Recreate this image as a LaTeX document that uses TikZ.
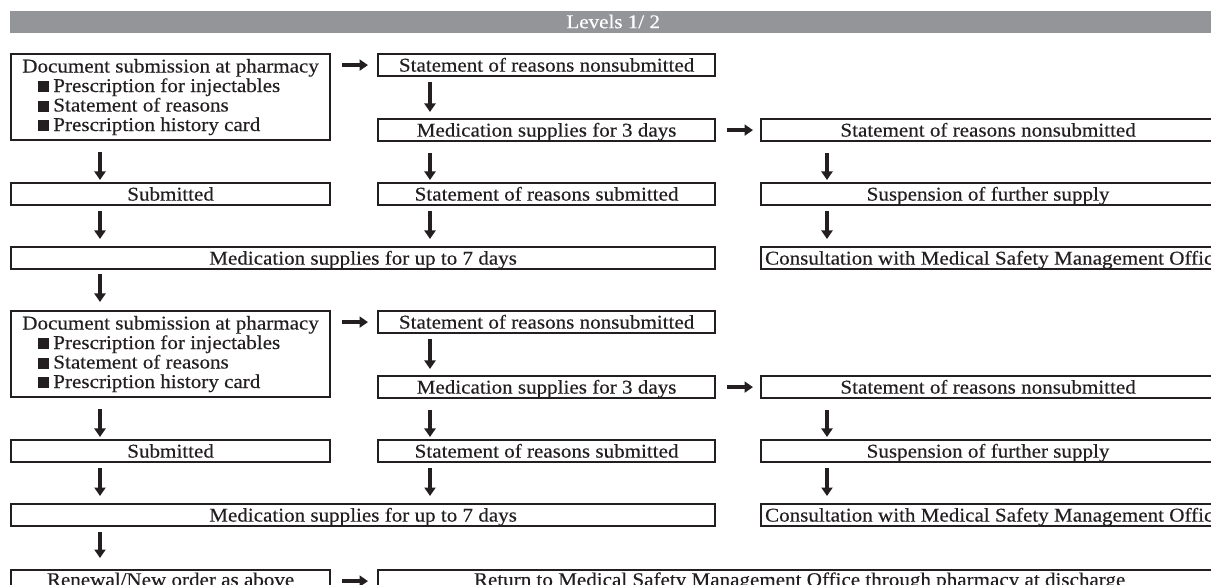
\documentclass[tikz,border=0pt]{standalone}
\usepackage{fontspec}
\setmainfont[FakeStretch=1.08,FakeBold=0.35]{Liberation Serif}
\usetikzlibrary{arrows.meta}
\definecolor{bargray}{HTML}{939598}
\definecolor{ink}{HTML}{231F20}
\begin{document}
\begin{tikzpicture}[x=1pt,y=-1pt,
  every node/.style={font=\fontsize{19.5}{19.5}\selectfont, text=ink},
  box/.style={draw=ink, line width=2.2pt, anchor=north west, inner xsep=0pt, inner ysep=0pt,
    text height=17.5pt, text depth=4.5pt, minimum height=22pt},
  docbox/.style={draw=ink, line width=2.2pt, anchor=north west, minimum width=319pt,
    minimum height=86pt, align=left, inner sep=0pt},
  darr/.style={draw=ink, line width=4.2pt, -{Triangle[width=11pt,length=8.5pt]}},
  rarr/.style={draw=ink, line width=4.2pt, -{Triangle[width=11pt,length=8.5pt]}},
]
\useasboundingbox (0,0) rectangle (1211,585);
\node[fill=bargray, anchor=north west, minimum width=1206pt, minimum height=22pt,
  inner sep=0pt, text height=17pt, text depth=5pt, text=white] (title) at (10,11) {Levels 1/ 2};
\foreach \b/\o in {1/0,2/257}{
  \node[docbox] (doc\b) at (10,{53+\o}) {Document submission at pharmacy\\
    \hspace*{16pt}\rule{11pt}{11pt}\hspace{4pt}Prescription for injectables\\
    \hspace*{16pt}\rule{11pt}{11pt}\hspace{4pt}Statement of reasons\\
    \hspace*{16pt}\rule{11pt}{11pt}\hspace{4pt}Prescription history card};
  \node[box, minimum width=337pt] (nons\b) at (377,{53+\o}) {Statement of reasons nonsubmitted};
  \node[box, minimum width=337pt] (medthree\b) at (377,{118+\o}) {Medication supplies for 3 days};
  \node[box, minimum width=454pt] (rnons\b) at (760,{118+\o}) {Statement of reasons nonsubmitted};
  \node[box, minimum width=319pt] (sub\b) at (10,{182+\o}) {Submitted};
  \node[box, minimum width=337pt] (ssub\b) at (377,{182+\o}) {Statement of reasons submitted};
  \node[box, minimum width=454pt] (susp\b) at (760,{182+\o}) {Suspension of further supply};
  \node[box, minimum width=704pt] (medseven\b) at (10,{246+\o}) {Medication supplies for up to 7 days};
  \node[box, inner xsep=4pt] (cons\b) at (760,{246+\o}) {Consultation with Medical Safety Management Office};
  \draw[rarr, shorten <=11pt, shorten >=9pt] (doc\b.east |- nons\b.west) -- (nons\b.west);
  \draw[darr, shorten <=5pt, shorten >=6pt] ([xshift=53pt]nons\b.south west) -- ([xshift=53pt]medthree\b.north west);
  \draw[rarr, shorten <=11pt, shorten >=7pt] (medthree\b.east) -- (rnons\b.west);
  \draw[darr, shorten <=11pt, shorten >=2pt] ([xshift=90pt]doc\b.south west) -- ([xshift=90pt]sub\b.north west);
  \draw[darr, shorten <=11pt, shorten >=2pt] ([xshift=53pt]medthree\b.south west) -- ([xshift=53pt]ssub\b.north west);
  \draw[darr, shorten <=11pt, shorten >=2pt] ([xshift=67pt]rnons\b.south west) -- ([xshift=67pt]susp\b.north west);
  \draw[darr, shorten <=5pt, shorten >=7pt] ([xshift=90pt]sub\b.south west) -- ([xshift=90pt]medseven\b.north west);
  \draw[darr, shorten <=5pt, shorten >=7pt] ([xshift=53pt]ssub\b.south west) -- ([xshift=420pt]medseven\b.north west);
  \draw[darr, shorten <=5pt, shorten >=7pt] ([xshift=67pt]susp\b.south west) -- ([xshift=67pt]cons\b.north west);
}
\draw[darr, shorten <=4pt, shorten >=8pt] ([xshift=90pt]medseven1.south west) -- ([xshift=90pt]doc2.north west);
\node[box, minimum width=319pt, text height=14.5pt] (ren) at (10,569) {Renewal/New order as above};
\node[box, minimum width=843pt, text height=14.5pt] (ret) at (377,569) {Return to Medical Safety Management Office through pharmacy at discharge};
\draw[darr, shorten <=5pt, shorten >=11pt] ([xshift=90pt]medseven2.south west) -- ([xshift=90pt]ren.north west);
\draw[rarr, shorten <=11pt, shorten >=9pt] (ren.east) -- (ret.west);
\end{tikzpicture}
\end{document}
